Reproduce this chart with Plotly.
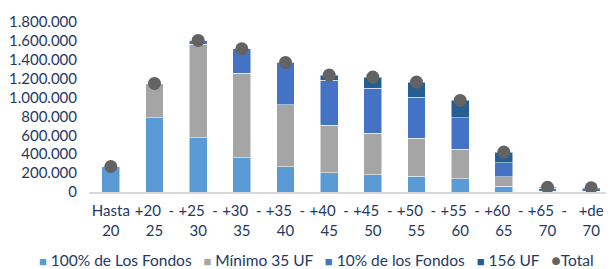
import plotly.graph_objects as go

categories = ["Hasta<br>20", "+20 &nbsp;-<br>25", "+25 &nbsp;-<br>30", "+30 &nbsp;-<br>35", "+35 &nbsp;-<br>40",
              "+40 &nbsp;-<br>45", "+45 &nbsp;-<br>50", "+50 &nbsp;-<br>55", "+55 &nbsp;-<br>60",
              "+60 &nbsp;-<br>65", "+65 &nbsp;-<br>70", "+de<br>70"]
fondos_100 = [270000, 787000, 575000, 364000, 265000, 205000, 184000, 169000, 138000, 63000, 5000, 5000]
minimo_35 = [0, 360000, 988000, 895000, 660000, 504000, 440000, 402000, 314000, 96000, 5000, 5000]
fondos_10 = [0, 0, 42000, 258000, 444000, 473000, 473000, 431000, 335000, 152000, 30000, 25000]
uf_156 = [0, 0, 0, 0, 5000, 56000, 120000, 162000, 183000, 112000, 10000, 10000]
total = [270000, 1150000, 1605000, 1517000, 1372000, 1238000, 1217000, 1164000, 970000, 423000, 50000, 45000]

text_color = "#1F3864"
series = [("100% de Los Fondos", fondos_100, "#5B9BD5"),
          ("Mínimo 35 UF", minimo_35, "#A5A5A5"),
          ("10% de los Fondos", fondos_10, "#4472C4"),
          ("156 UF", uf_156, "#255E91")]
total_color = "#636363"

fig = go.Figure()
for name, vals, col in series:
    fig.add_trace(go.Bar(x=categories, y=vals, name=name,
                         marker=dict(color=col, line=dict(color="#FFFFFF", width=0.5))))
fig.add_trace(go.Scatter(x=categories, y=total, name="Total", mode="markers",
                         marker=dict(color=total_color, size=13)))

# compact legend row as text
parts = []
for name, _, col in series:
    parts.append(f"<span style='color:{col};font-size:13px'>■</span> {name}")
parts.append(f"<span style='color:{total_color};font-size:16px'>●</span>Total")
legend_text = " &nbsp; ".join(parts)

fig.update_layout(
    autosize=False,
    barmode="stack", bargap=0.59,
    width=614, height=269,
    margin=dict(l=81, r=9, t=14, b=85, autoexpand=False),
    paper_bgcolor="white", plot_bgcolor="white",
    font=dict(family="Lato", size=15, color=text_color),
    showlegend=False,
    annotations=[dict(text=legend_text, xref="paper", yref="paper", x=0.435, y=-0.40,
                      xanchor="center", yanchor="middle", showarrow=False,
                      font=dict(family="Lato", size=15.5, color=text_color))],
    xaxis=dict(range=[-0.5, 11.5], showgrid=False, showline=True, linecolor="#D9D9D9", linewidth=2,
               ticks="", ticklabelstandoff=4,
               tickfont=dict(size=15, color=text_color), automargin=False),
    yaxis=dict(range=[0, 1800000], dtick=200000, showgrid=False, zeroline=False,
               tickformat=",d", ticks="", ticklabelstandoff=11, automargin=False,
               tickfont=dict(size=15, color=text_color)),
    separators=",.",
)
fig.write_html("out.html")
